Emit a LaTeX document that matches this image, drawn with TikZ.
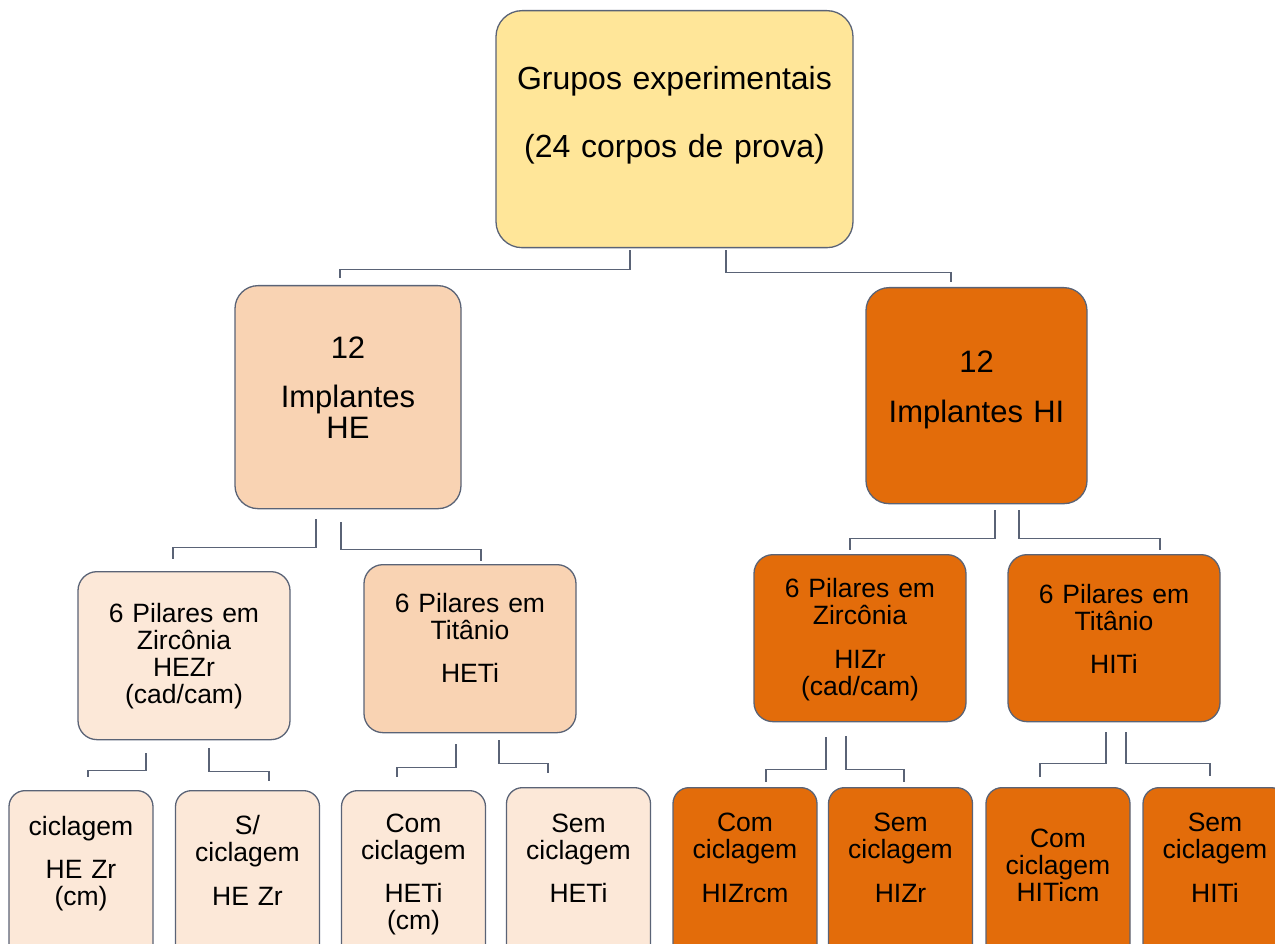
\documentclass[tikz,border=0pt]{standalone}
\usepackage{fontspec}
\setmainfont{Liberation Sans}
\usepackage{xcolor}
\usepackage{tikz}
\definecolor{edgec}{HTML}{5A6376}
\definecolor{goldf}{HTML}{FFE699}
\definecolor{peachf}{HTML}{F9D3B3}
\definecolor{creamf}{HTML}{FCE8D8}
\definecolor{orangef}{HTML}{E36C0A}
\tikzset{
  box/.style={draw=edgec,line width=1.3pt,anchor=north,align=center,inner sep=0pt,text=black},
  topbox/.style={box,rounded corners=26pt,font=\fontsize{32}{32}\selectfont},
  midbox/.style={box,rounded corners=23pt,font=\fontsize{31}{31}\selectfont},
  pilbox/.style={box,rounded corners=19pt,text width=212pt,font=\fontsize{26.5}{27}\selectfont},
  leaf/.style={box,rounded corners=16pt,text width=144pt,text depth=170pt,font=\fontsize{26.5}{27}\selectfont},
  lnk/.style={draw=edgec,line width=1.2pt}
}
\begin{document}
\begin{tikzpicture}[x=1pt,y=-1pt]
\useasboundingbox (0,0) rectangle (1275,944);
\clip (0,0) rectangle (1275,944);
% boxes
\node[topbox,fill=goldf,text width=357pt,text height=79pt,text depth=158pt] (root) at (674.5,10)
  {Grupos experimentais\\[36pt](24 corpos de prova)};
\node[midbox,fill=peachf,text width=226pt,text height=73pt,text depth=150pt] (he) at (348,285)
  {12\\[18pt]Implantes\\HE};
\node[midbox,fill=orangef,text width=221pt,text height=85pt,text depth=131pt] (hi) at (976.5,287)
  {12\\[19pt]Implantes HI};
\node[pilbox,fill=creamf,text height=51pt,text depth=117pt] (hezr) at (184,571)
  {6 Pilares em\\Zircônia\\HEZr\\(cad/cam)};
\node[pilbox,fill=peachf,text height=48pt,text depth=120pt] (heti) at (470,564)
  {6 Pilares em\\Titânio\\[16pt]HETi};
\node[pilbox,fill=orangef,text height=43pt,text depth=124pt] (hizr) at (860,554)
  {6 Pilares em\\Zircônia\\[17pt]HIZr\\(cad/cam)};
\node[pilbox,fill=orangef,text height=49pt,text depth=118pt] (hiti) at (1114,554)
  {6 Pilares em\\Titânio\\[16pt]HITi};
\node[leaf,fill=creamf,text height=45pt] (hezrc) at (81,790) {ciclagem\\[16pt]HE Zr\\(cm)};
\node[leaf,fill=creamf,text height=44pt] (hezrs) at (247.5,790) {S/\\ciclagem\\[17pt]HE Zr};
\node[leaf,fill=creamf,text height=42pt] (hetic) at (413.5,790) {Com\\ciclagem\\[16pt]HETi\\(cm)};
\node[leaf,fill=creamf,text height=45pt] (hetis) at (578.5,787) {Sem\\ciclagem\\[16pt]HETi};
\node[leaf,fill=orangef,text height=44pt] (hizrc) at (745,787) {Com\\ciclagem\\[17pt]HIZrcm};
\node[leaf,fill=orangef,text height=44pt] (hizrs) at (900.5,787) {Sem\\ciclagem\\[17pt]HIZr};
\node[leaf,fill=orangef,text height=60pt] (hitic) at (1058,787) {Com\\ciclagem\\HITicm};
\node[leaf,fill=orangef,text height=44pt] (hitis) at (1215,787) {Sem\\ciclagem\\[17pt]HITi};
% elbow links
\draw[lnk] ([xshift=-44.5pt,yshift=-2pt]root.south) -- ++(0,19) -| ([xshift=-8pt,yshift=7pt]he.north);
\draw[lnk] ([xshift=51.5pt,yshift=-2pt]root.south) -- ++(0,22) -| ([xshift=-25.5pt,yshift=5pt]hi.north);
\draw[lnk] ([xshift=-32pt,yshift=-10pt]he.south) -- ++(0,28) -| ([xshift=-11pt,yshift=12pt]hezr.north);
\draw[lnk] ([xshift=-7pt,yshift=-13pt]he.south) -- ++(0,27) -| ([xshift=11pt,yshift=3pt]heti.north);
\draw[lnk] ([xshift=18.5pt,yshift=-6pt]hi.south) -- ++(0,28) -| ([xshift=-10pt,yshift=4pt]hizr.north);
\draw[lnk] ([xshift=42.5pt,yshift=-6pt]hi.south) -- ++(0,28) -| ([xshift=46pt,yshift=4pt]hiti.north);
\draw[lnk] ([xshift=-38pt,yshift=-13pt]hezr.south) -- ++(0,17) -| ([xshift=7pt,yshift=13pt]hezrc.north);
\draw[lnk] ([xshift=25pt,yshift=-8pt]hezr.south) -- ++(0,23) -| ([xshift=21.5pt,yshift=9pt]hezrs.north);
\draw[lnk] ([xshift=-14pt,yshift=-11pt]heti.south) -- ++(0,23) -| ([xshift=-16.5pt,yshift=13pt]hetic.north);
\draw[lnk] ([xshift=29pt,yshift=-7pt]heti.south) -- ++(0,23) -| ([xshift=-30.5pt,yshift=14pt]hetis.north);
\draw[lnk] ([xshift=-34pt,yshift=-15pt]hizr.south) -- ++(0,32) -| ([xshift=21pt,yshift=5pt]hizrc.north);
\draw[lnk] ([xshift=-14pt,yshift=-14pt]hizr.south) -- ++(0,33) -| ([xshift=3.5pt,yshift=5pt]hizrs.north);
\draw[lnk] ([xshift=-8pt,yshift=-10pt]hiti.south) -- ++(0,31) -| ([xshift=-18pt,yshift=10pt]hitic.north);
\draw[lnk] ([xshift=12pt,yshift=-10pt]hiti.south) -- ++(0,31) -| ([xshift=-5pt,yshift=11pt]hitis.north);
\end{tikzpicture}
\end{document}
